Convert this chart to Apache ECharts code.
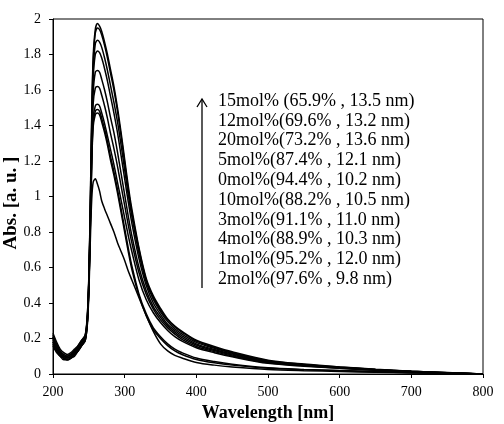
<!DOCTYPE html>
<html>
<head>
<meta charset="utf-8">
<script src="https://cdn.jsdelivr.net/npm/echarts@6/dist/echarts.min.js"></script>
<style>
  html, body { margin: 0; padding: 0; background: #fff; }
  #chart { width: 504px; height: 424px; }
</style>
</head>
<body>
<div id="chart"></div>
<script>
// wavelength grid (nm)
var wl = [200,205,210,215,220,225,230,235,240,245,248,250,252,254,256,259,262,265,268,272,276,280,285,290,295,300,305,310,320,330,340,350,360,370,380,400,425,450,500,550,600,650,700,750,800];

// absorbance, one array per sample
var s15 = [0.22,0.17,0.13,0.11,0.10,0.11,0.13,0.16,0.19,0.22, 0.34,0.55,0.95,1.45,1.78,1.94,1.975, 1.96,1.93,1.87,1.80,1.72,1.62,1.50,1.36,1.21,1.06,0.93,0.71,0.54,0.44,0.37,0.31,0.27,0.24,0.19,0.155,0.125,0.078,0.056,0.040,0.027,0.016,0.008,0];
var s12 = [0.20,0.15,0.12,0.10,0.09,0.10,0.12,0.15,0.18,0.21, 0.33,0.54,0.93,1.42,1.75,1.92,1.95, 1.94,1.91,1.85,1.78,1.70,1.60,1.48,1.34,1.19,1.04,0.91,0.70,0.53,0.43,0.36,0.305,0.265,0.235,0.185,0.150,0.120,0.075,0.054,0.039,0.026,0.015,0.007,0];
var s20 = [0.21,0.16,0.12,0.10,0.10,0.11,0.13,0.15,0.18,0.21, 0.32,0.53,0.91,1.38,1.70,1.86,1.88, 1.87,1.84,1.78,1.71,1.63,1.53,1.42,1.29,1.15,1.01,0.89,0.68,0.52,0.42,0.35,0.295,0.255,0.225,0.178,0.145,0.117,0.072,0.052,0.037,0.025,0.015,0.007,0];
var s5  = [0.18,0.14,0.11,0.09,0.09,0.10,0.12,0.14,0.17,0.20, 0.31,0.52,0.89,1.35,1.66,1.80,1.82, 1.81,1.78,1.72,1.65,1.57,1.47,1.36,1.23,1.10,0.97,0.85,0.65,0.50,0.40,0.335,0.28,0.245,0.215,0.170,0.138,0.112,0.069,0.050,0.036,0.024,0.014,0.007,0];
var s0  = [0.23,0.18,0.14,0.12,0.11,0.12,0.14,0.16,0.19,0.22, 0.32,0.52,0.87,1.30,1.58,1.70,1.71, 1.70,1.66,1.60,1.53,1.45,1.36,1.25,1.13,1.01,0.89,0.78,0.60,0.47,0.38,0.32,0.27,0.235,0.205,0.163,0.132,0.107,0.066,0.048,0.035,0.023,0.014,0.006,0];
var s10 = [0.17,0.13,0.10,0.09,0.08,0.09,0.11,0.13,0.16,0.19, 0.30,0.50,0.85,1.26,1.52,1.61,1.62, 1.61,1.57,1.51,1.44,1.36,1.27,1.17,1.06,0.95,0.84,0.74,0.57,0.45,0.365,0.305,0.26,0.225,0.195,0.155,0.126,0.102,0.063,0.046,0.033,0.022,0.013,0.006,0];
var s3  = [0.19,0.15,0.12,0.10,0.09,0.10,0.12,0.14,0.17,0.20, 0.30,0.49,0.83,1.21,1.44,1.51,1.52, 1.51,1.47,1.41,1.34,1.27,1.18,1.08,0.98,0.88,0.78,0.69,0.53,0.42,0.345,0.29,0.245,0.21,0.185,0.148,0.120,0.097,0.060,0.044,0.032,0.021,0.012,0.006,0];
var s4  = [0.21,0.16,0.12,0.10,0.10,0.11,0.13,0.15,0.18,0.21, 0.30,0.49,0.82,1.19,1.41,1.48,1.49, 1.48,1.44,1.38,1.31,1.23,1.14,1.04,0.93,0.82,0.71,0.61,0.45,0.34,0.26,0.21,0.17,0.14,0.12,0.090,0.070,0.055,0.035,0.026,0.020,0.014,0.009,0.004,0];
var s1  = [0.16,0.12,0.10,0.08,0.08,0.09,0.10,0.13,0.16,0.19, 0.29,0.48,0.81,1.17,1.39,1.46,1.47, 1.46,1.42,1.36,1.29,1.21,1.12,1.02,0.91,0.80,0.69,0.59,0.44,0.33,0.25,0.20,0.16,0.13,0.11,0.082,0.063,0.050,0.032,0.024,0.018,0.012,0.008,0.004,0];
var s2  = [0.18,0.14,0.11,0.09,0.08,0.09,0.11,0.13,0.16,0.19, 0.28,0.45,0.74,0.98,1.08,1.10,1.07, 1.03,0.975,0.93,0.89,0.85,0.80,0.74,0.69,0.64,0.58,0.53,0.43,0.33,0.24,0.17,0.13,0.105,0.09,0.065,0.050,0.040,0.026,0.019,0.014,0.010,0.006,0.003,0];

var allSeries = [s15, s12, s20, s5, s0, s10, s3, s4, s1, s2];

// annotation text, top to bottom
var notes = [
  '15mol% (65.9% , 13.5 nm)',
  '12mol%(69.6% , 13.2 nm)',
  '20mol%(73.2% , 13.6 nm)',
  '5mol%(87.4% , 12.1 nm)',
  '0mol%(94.4% , 10.2 nm)',
  '10mol%(88.2% , 10.5 nm)',
  '3mol%(91.1% , 11.0 nm)',
  '4mol%(88.9% , 10.3 nm)',
  '1mol%(95.2% , 12.0 nm)',
  '2mol%(97.6% , 9.8 nm)'
];

var serif = '"Liberation Serif", "DejaVu Serif", serif';
var myChart = echarts.init(document.getElementById('chart'));

var graphics = notes.map(function (t, i) {
  return {
    type: 'text', x: 218, y: 101 + i * 19.8,
    style: { text: t, font: '18px ' + serif, fill: '#000', verticalAlign: 'middle' }
  };
});
graphics.push({
  type: 'line', shape: { x1: 202, y1: 288, x2: 202, y2: 99 },
  style: { stroke: '#000', lineWidth: 1.3 }
});
graphics.push({
  type: 'polyline', shape: { points: [[197, 107], [202, 99], [207, 107]] },
  style: { stroke: '#000', lineWidth: 1.3, fill: null }
});
// y axis title
graphics.push({
  type: 'text', x: 11, y: 203, rotation: Math.PI / 2,
  style: { text: 'Abs. [a. u. ]', font: 'bold 19px ' + serif, fill: '#000', align: 'center', verticalAlign: 'middle' }
});

var option = {
  animation: false,
  grid: { left: 53, right: 21, top: 19, bottom: 50, containLabel: false, outerBoundsMode: 'none',
          show: true, borderColor: '#000', borderWidth: 1 },
  xAxis: {
    type: 'value', min: 200, max: 800, interval: 100,
    name: 'Wavelength [nm]', nameLocation: 'middle', nameGap: 29,
    nameTextStyle: { fontFamily: serif, fontSize: 18, fontWeight: 'bold', color: '#000' },
    axisLine: { lineStyle: { color: '#000' } },
    axisTick: { inside: false, length: 4, lineStyle: { color: '#000' } },
    axisLabel: { fontFamily: serif, fontSize: 14, color: '#000', margin: 11 },
    splitLine: { show: false }
  },
  yAxis: {
    type: 'value', min: 0, max: 2, interval: 0.2,
    axisLine: { show: true, lineStyle: { color: '#000' } },
    axisTick: { show: true, inside: false, length: 4, lineStyle: { color: '#000' } },
    axisLabel: { fontFamily: serif, fontSize: 14, color: '#000', margin: 12 },
    splitLine: { show: false }
  },
  series: allSeries.map(function (arr) {
    return {
      type: 'line',
      data: wl.map(function (x, i) { return [x, arr[i]]; }),
      showSymbol: false,
      smooth: 0.3,
      lineStyle: { color: '#000', width: 1.5 }
    };
  }),
  graphic: graphics
};
myChart.setOption(option);
</script>
</body>
</html>
